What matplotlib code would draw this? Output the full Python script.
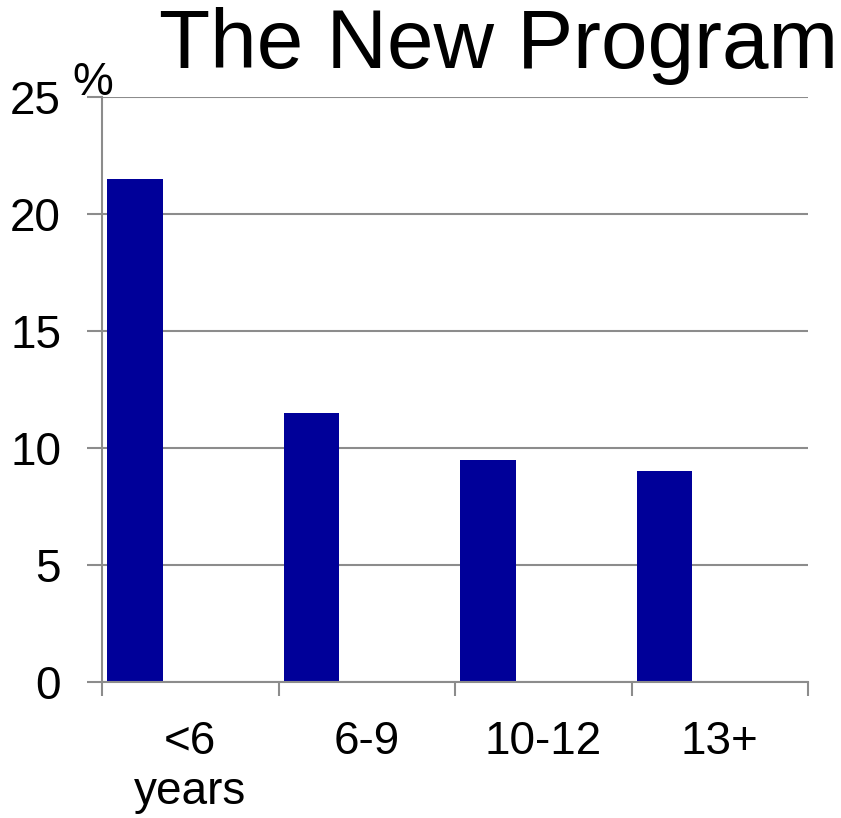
import matplotlib
matplotlib.use("Agg")
import matplotlib.pyplot as plt
import numpy as np

plt.rcParams['font.family'] = ['Liberation Sans', 'DejaVu Sans']

# Share of participants by age group
categories = ["<6\nyears", "6-9", "10-12", "13+"]
values = [21.5, 11.5, 9.5, 9.0]
y_ticks = [0, 5, 10, 15, 20, 25]

bar_color = "#000099"
axis_gray = "#8c8c8c"

fig = plt.figure(figsize=(8.41, 8.18), dpi=100)
ax = fig.add_axes([102 / 841, 1 - 682 / 818, 706 / 841, 585 / 818])

x = np.arange(len(categories))
ax.bar(x - 0.5 + 0.03, values, width=0.313, align="edge", color=bar_color,
       zorder=3)

ax.set_xlim(-0.5, len(categories) - 0.5)
ax.set_ylim(0, 25)

# Category labels centred in each slot; tick marks on the slot boundaries
ax.set_xticks(x)
ax.set_xticklabels(categories, fontsize=33, linespacing=1.2)
ax.tick_params(axis="x", which="major", length=0, pad=27)
ax.set_xticks(np.arange(len(categories) + 1) - 0.5, minor=True)
ax.tick_params(axis="x", which="minor", length=10, width=1.5,
               color=axis_gray, direction="out")

ax.set_yticks(y_ticks)
ax.set_yticklabels([str(v) for v in y_ticks], fontsize=33)
ax.tick_params(axis="y", length=10.5, width=1.5, color=axis_gray, pad=19)

ax.yaxis.grid(True, color=axis_gray, linewidth=1.5, zorder=0)
ax.set_axisbelow(True)

for side in ("top", "right"):
    ax.spines[side].set_visible(False)
for side in ("left", "bottom"):
    ax.spines[side].set_color(axis_gray)
    ax.spines[side].set_linewidth(1.5)
    ax.spines[side].set_zorder(4)

fig.text(838 / 841, 1 - 68 / 818, "The New Program", fontsize=60.3,
         ha="right", va="baseline")
fig.text(72 / 841, 1 - 95 / 818, "%", fontsize=33, ha="left", va="baseline")

fig.savefig("out.png", dpi=100, facecolor="white")
